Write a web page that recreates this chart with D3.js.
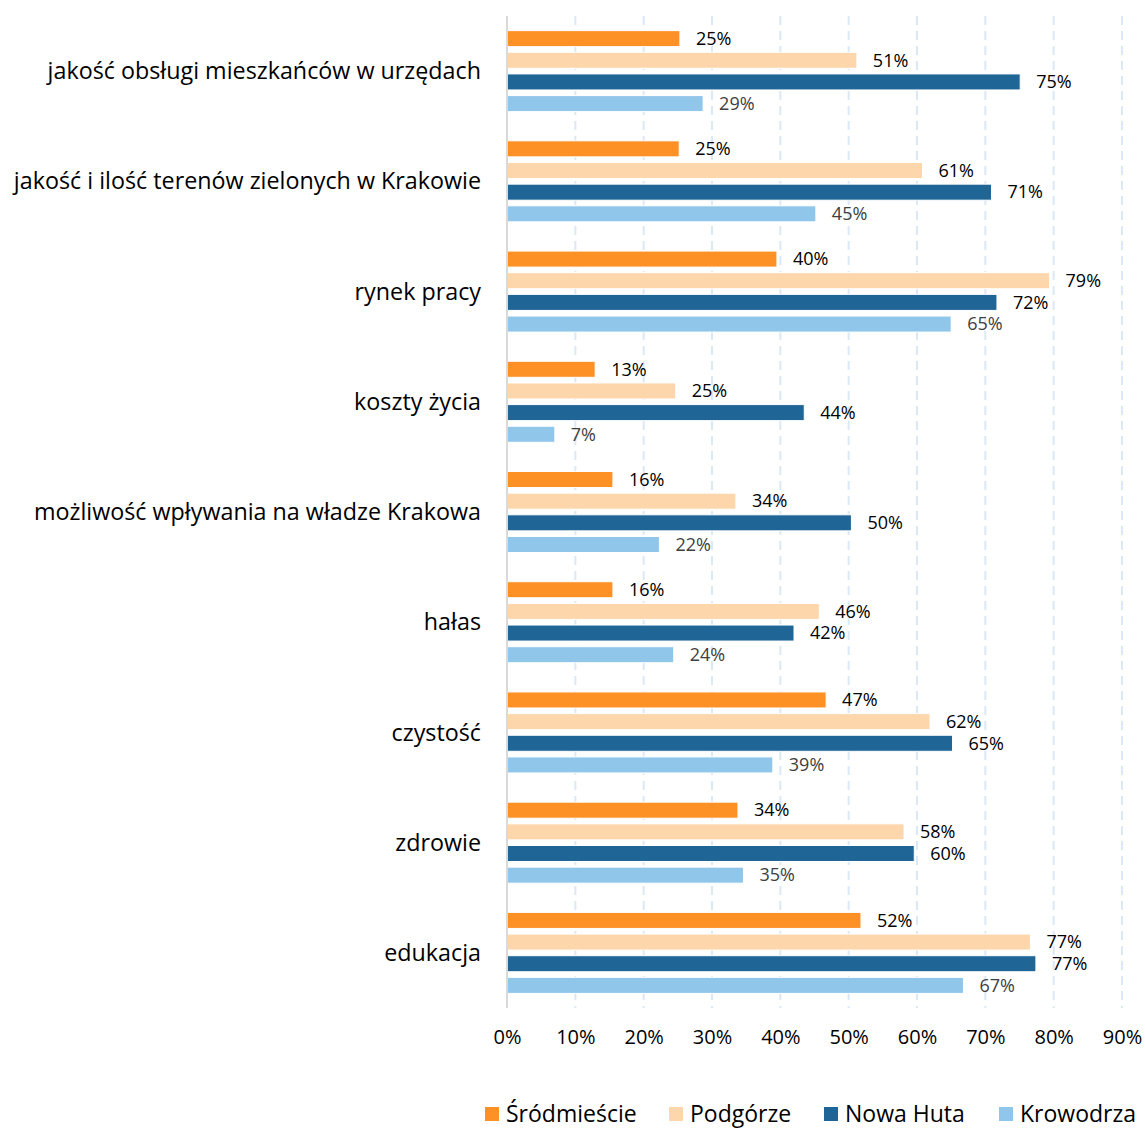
<!DOCTYPE html>
<html><head><meta charset="utf-8">
<script src="https://cdn.jsdelivr.net/npm/d3@7"></script>
<style>body{margin:0;background:#fff;} text{font-family:"Open Sans", sans-serif;}</style>
</head><body>
<svg id="chart" width="1145" height="1128"></svg>
<script>
const categories = ["jakość obsługi mieszkańców w urzędach","jakość i ilość terenów zielonych w Krakowie","rynek pracy","koszty życia","możliwość wpływania na władze Krakowa","hałas","czystość","zdrowie","edukacja"];
const seriesNames = ["Śródmieście","Podgórze","Nowa Huta","Krowodrza"];
const seriesColors = ["#fd9126","#fdd6ac","#1f6595","#90c6ea"];
const labelColors = ["#000000","#000000","#000000","#404040"];
const srodmiescie = [25.3,25.2,39.5,12.9,15.5,15.5,46.7,33.8,51.8];
const podgorze = [51.2,60.8,79.4,24.7,33.5,45.7,61.9,58.1,76.6];
const nowaHuta = [75.1,70.9,71.7,43.5,50.4,42.0,65.2,59.6,77.4];
const krowodrza = [28.7,45.2,65.0,7.0,22.3,24.4,38.9,34.6,66.8];
const seriesValues = [srodmiescie,podgorze,nowaHuta,krowodrza];
const xTicks = [0,10,20,30,40,50,60,70,80,90];

const svg = d3.select("#chart");
const x = d3.scaleLinear().domain([0,90]).range([507,1122]);
const y0 = d3.scaleBand().domain(categories).range([16,1008]).paddingInner(0).paddingOuter(0);
const bw = y0.bandwidth();
const y1 = d3.scaleBand().domain(seriesNames).range([bw/2-40.5, bw/2+40.5]).paddingInner(0.26).paddingOuter(0);

// gridlines
svg.append("g").selectAll("line").data(xTicks.slice(1)).join("line")
  .attr("x1",d=>x(d)).attr("x2",d=>x(d)).attr("y1",16).attr("y2",1008)
  .attr("stroke","#dbe8f5").attr("stroke-width",2).attr("stroke-dasharray","9,6");

// bars
const groups = svg.append("g").selectAll("g").data(categories).join("g")
  .attr("transform",d=>`translate(0,${y0(d)})`);
seriesNames.forEach((s,si)=>{
  groups.append("rect")
    .attr("x",x(0)).attr("y",y1(s)).attr("height",y1.bandwidth())
    .attr("width",(d,i)=>x(seriesValues[si][i])-x(0))
    .attr("fill",seriesColors[si]).attr("stroke","#ffffff").attr("stroke-width",1);
  groups.append("text")
    .attr("x",(d,i)=>x(seriesValues[si][i])+16)
    .attr("y",y1(s)+y1.bandwidth()/2).attr("dy","0.35em")
    .attr("font-size",18).attr("fill",labelColors[si])
    .text((d,i)=>Math.round(seriesValues[si][i])+"%");
});

// axis line
svg.append("line").attr("x1",x(0)).attr("x2",x(0)).attr("y1",16).attr("y2",1008)
  .attr("stroke","#d9d9d9").attr("stroke-width",2);

// category labels
svg.append("g").selectAll("text").data(categories).join("text")
  .attr("x",481).attr("y",d=>y0(d)+y0.bandwidth()/2).attr("dy","0.35em")
  .attr("text-anchor","end").attr("font-size",23.3).attr("fill","#000").text(d=>d);

// x axis
const xAxis = d3.axisBottom(x).tickValues(xTicks).tickFormat(d=>d+"%").tickSize(0).tickPadding(0);
const ax = svg.append("g").attr("transform","translate(0,1030)").call(xAxis);
ax.select(".domain").remove();
ax.selectAll("text").attr("font-size",20).attr("fill","#000").style("font-family","'Open Sans', sans-serif");

// legend
const legendX = [485,669,824,999];
const lg = svg.append("g").selectAll("g").data(seriesNames).join("g")
  .attr("transform",(d,i)=>`translate(${legendX[i]},1107)`);
lg.append("rect").attr("width",14).attr("height",14).attr("fill",(d,i)=>seriesColors[i]);
lg.append("text").attr("x",21).attr("y",7).attr("dy","0.35em").attr("font-size",23).attr("fill","#000").text(d=>d);
</script>
</body></html>
